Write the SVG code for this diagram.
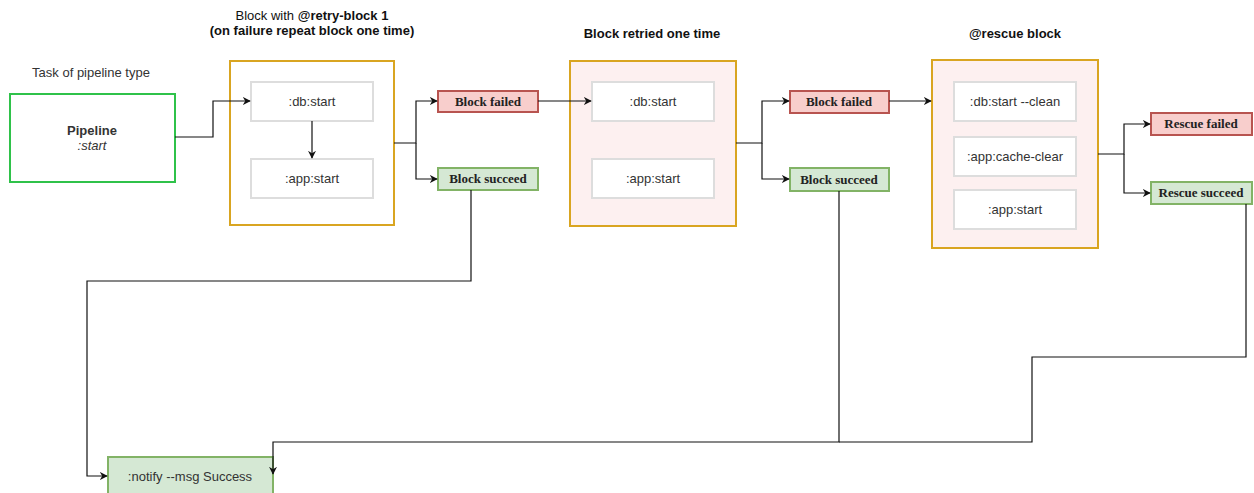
<svg xmlns="http://www.w3.org/2000/svg" width="1254" height="493" viewBox="0 0 1254 493">
  <style>
    .sans { font-family: "Liberation Sans", Arial, sans-serif; font-size: 13px; fill: #333; }
    .title { font-family: "Liberation Sans", Arial, sans-serif; font-size: 13px; fill: #111; }
    .b { font-weight: bold; }
    .serif { font-family: "Liberation Serif", "Times New Roman", serif; font-size: 13px; font-weight: bold; fill: #222; }
    .block { fill: #ffffff; stroke: #d9a521; stroke-width: 2; }
    .block.pink { fill: #fdf0f0; }
    .step { fill: #ffffff; stroke: #dddddd; stroke-width: 2; }
    .fail { fill: #f8cecc; stroke: #b85450; stroke-width: 2; }
    .ok { fill: #d5e8d4; stroke: #82b366; stroke-width: 2; }
    .edge { fill: none; stroke: #111; stroke-width: 1.2; }
  </style>
  <defs>
    <marker id="arrow" viewBox="0 0 10 10" refX="9" refY="5" markerWidth="8" markerHeight="8" markerUnits="userSpaceOnUse" orient="auto">
      <path d="M0,0 L10,5 L0,10 L3,5 Z" fill="#111"/>
    </marker>
  </defs>
  <rect width="1254" height="493" fill="#ffffff"/>

  <!-- headings -->
  <g id="headings">
    <text class="sans" x="91" y="77" text-anchor="middle">Task of pipeline type</text>
    <text class="title" x="312" y="20" text-anchor="middle">Block with <tspan class="b">@retry-block 1</tspan></text>
    <text class="title b" x="312" y="35" text-anchor="middle">(on failure repeat block one time)</text>
    <text class="title b" x="652" y="38" text-anchor="middle">Block retried one time</text>
    <text class="title b" x="1015" y="38" text-anchor="middle">@rescue block</text>
  </g>

  <!-- pipeline task -->
  <g id="pipeline">
    <rect x="10" y="94" width="165" height="88" fill="#ffffff" stroke="#2fc24a" stroke-width="2"/>
    <text class="sans b" x="92" y="135" text-anchor="middle" fill="#222">Pipeline</text>
    <text class="sans" x="92" y="150" text-anchor="middle" font-style="italic">:start</text>
  </g>

  <!-- retry block -->
  <g id="retry-block">
    <rect class="block" x="230" y="61" width="164" height="164"/>
  </g>
  <g id="retry-db-start">
    <rect class="step" x="251" y="82" width="122" height="39"/>
    <text class="sans" x="312" y="106" text-anchor="middle">:db:start</text>
  </g>
  <g id="retry-app-start">
    <rect class="step" x="251" y="159" width="122" height="39"/>
    <text class="sans" x="312" y="183" text-anchor="middle">:app:start</text>
  </g>
  <g id="failed-1">
    <rect class="fail" x="438" y="91" width="100" height="21"/>
    <text class="serif" x="488" y="106" text-anchor="middle">Block failed</text>
  </g>
  <g id="succeed-1">
    <rect class="ok" x="438" y="168" width="100" height="22"/>
    <text class="serif" x="488" y="183" text-anchor="middle">Block succeed</text>
  </g>

  <!-- retried block -->
  <g id="retried-block">
    <rect class="block pink" x="570" y="61" width="166" height="165"/>
  </g>
  <g id="retried-db-start">
    <rect class="step" x="592" y="82" width="122" height="39"/>
    <text class="sans" x="653" y="106" text-anchor="middle">:db:start</text>
  </g>
  <g id="retried-app-start">
    <rect class="step" x="592" y="159" width="122" height="39"/>
    <text class="sans" x="653" y="183" text-anchor="middle">:app:start</text>
  </g>
  <g id="failed-2">
    <rect class="fail" x="790" y="91" width="99" height="22"/>
    <text class="serif" x="839" y="106" text-anchor="middle">Block failed</text>
  </g>
  <g id="succeed-2">
    <rect class="ok" x="790" y="168" width="99" height="23"/>
    <text class="serif" x="839" y="184" text-anchor="middle">Block succeed</text>
  </g>

  <!-- rescue block -->
  <g id="rescue-block">
    <rect class="block pink" x="932" y="60" width="166" height="188"/>
  </g>
  <g id="rescue-db-start">
    <rect class="step" x="954" y="82" width="122" height="39"/>
    <text class="sans" x="1015" y="106" text-anchor="middle">:db:start --clean</text>
  </g>
  <g id="rescue-cache-clear">
    <rect class="step" x="954" y="137" width="122" height="39"/>
    <text class="sans" x="1015" y="161" text-anchor="middle">:app:cache-clear</text>
  </g>
  <g id="rescue-app-start">
    <rect class="step" x="954" y="190" width="122" height="39"/>
    <text class="sans" x="1015" y="214" text-anchor="middle">:app:start</text>
  </g>
  <g id="rescue-failed">
    <rect class="fail" x="1151" y="113" width="101" height="22"/>
    <text class="serif" x="1201" y="128" text-anchor="middle">Rescue failed</text>
  </g>
  <g id="rescue-succeed">
    <rect class="ok" x="1151" y="182" width="101" height="22"/>
    <text class="serif" x="1201" y="197" text-anchor="middle">Rescue succeed</text>
  </g>

  <!-- notify -->
  <g id="notify">
    <rect class="ok" x="108" y="457" width="165" height="44"/>
    <text class="sans" x="190" y="481" text-anchor="middle">:notify --msg Success</text>
  </g>

  <!-- connectors, drawn last so arrowheads sit on top of the boxes -->
  <g id="connectors">
    <path class="edge" d="M175,137 H213 V101 H250" marker-end="url(#arrow)"/>
    <path class="edge" d="M312,121 V158" marker-end="url(#arrow)"/>
    <path class="edge" d="M394,143 H416 V101 H437" marker-end="url(#arrow)"/>
    <path class="edge" d="M416,143 V179 H437" marker-end="url(#arrow)"/>
    <path class="edge" d="M538,101 H591" marker-end="url(#arrow)"/>
    <path class="edge" d="M736,143 H762 V101 H789" marker-end="url(#arrow)"/>
    <path class="edge" d="M762,143 V179 H789" marker-end="url(#arrow)"/>
    <path class="edge" d="M889,101 H931" marker-end="url(#arrow)"/>
    <path class="edge" d="M1098,154 H1124 V124 H1150" marker-end="url(#arrow)"/>
    <path class="edge" d="M1124,154 V193 H1150" marker-end="url(#arrow)"/>
    <path class="edge" d="M471,190 V281 H87 V476 H107" marker-end="url(#arrow)"/>
    <path class="edge" d="M839,191 V442 H273 V474" marker-end="url(#arrow)"/>
    <path class="edge" d="M1246,204 V357 H1032 V442 H839"/>
  </g>
</svg>
